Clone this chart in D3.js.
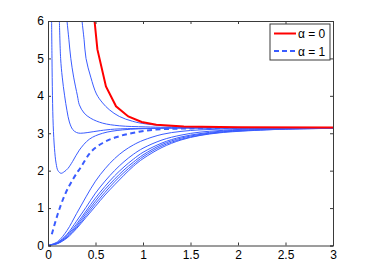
<!DOCTYPE html>
<html>
<head>
<meta charset="utf-8">
<script src="https://cdn.jsdelivr.net/npm/d3@7"></script>
<style>
  body { margin: 0; background: #fff; }
  svg text { font-family: "Liberation Sans", Arial, sans-serif; }
</style>
</head>
<body>
<div id="chart"></div>
<script>
const width = 368, height = 277;
const margin = {top: 21, right: 35, bottom: 31.5, left: 48};

// tick labels
const xTicks = [0, 0.5, 1, 1.5, 2, 2.5, 3];
const yTicks = [0, 1, 2, 3, 4, 5, 6];

// curves coming down from the top
const redAlpha0 = [[0.49,6],[0.52,5.24],[0.61,4.25],[0.716,3.72],[0.845,3.45],[0.986,3.30],[1.14,3.23],[1.43,3.18],[2,3.16],[3,3.155]];
const curveA = [[0.038,6],[0.042,5],[0.047,4],[0.055,3.2],[0.068,2.6],[0.085,2.2],[0.105,2.0],[0.137,1.93],[0.17,1.97],[0.21,2.06],[0.26,2.25],[0.33,2.55],[0.435,2.84],[0.575,3.0],[0.785,3.09],[1.14,3.13],[1.6,3.14],[3,3.14]];
const curveB = [[0.12,6],[0.133,5],[0.15,4.5],[0.175,4.0],[0.2,3.6],[0.225,3.3],[0.26,3.1],[0.3,3.02],[0.34,3.0],[0.42,3.02],[0.55,3.07],[0.7,3.11],[1.0,3.13],[1.5,3.14],[3,3.14]];
const curveC = [[0.2,6],[0.22,5.5],[0.24,5.0],[0.27,4.5],[0.31,4.0],[0.33,3.76],[0.38,3.54],[0.45,3.4],[0.575,3.27],[0.75,3.2],[1.03,3.17],[1.5,3.15],[3,3.145]];
const curveD = [[0.358,6],[0.38,5.5],[0.40,5.0],[0.45,4.5],[0.51,4.05],[0.575,3.81],[0.645,3.63],[0.75,3.45],[0.89,3.32],[1.03,3.25],[1.3,3.19],[1.8,3.16],[3,3.15]];

// dashed alpha = 1
const dashedAlpha1 = [[0.04,0.3],[0.1,0.82],[0.17,1.31],[0.26,1.76],[0.35,2.11],[0.435,2.45],[0.575,2.74],[0.75,2.92],[0.96,3.04],[1.14,3.1],[1.5,3.13],[2,3.14],[3,3.14]];

// bundle rising from zero
const bundleX = [0, 0.1, 0.2, 0.3, 0.4, 0.5, 0.6, 0.7, 0.8, 0.9, 1.0, 1.2, 1.4, 1.6, 1.8, 2.0, 2.5, 3.0];
const bundle1 = [0, 0.1, 0.4, 0.85, 1.3, 1.72, 2.05, 2.32, 2.53, 2.69, 2.81, 2.97, 3.05, 3.09, 3.11, 3.12, 3.135, 3.14];
const bundle2 = [0, 0.08, 0.3, 0.65, 1.02, 1.4, 1.72, 2.0, 2.24, 2.44, 2.6, 2.82, 2.95, 3.03, 3.07, 3.1, 3.13, 3.14];
const bundle3 = [0, 0.07, 0.27, 0.57, 0.92, 1.27, 1.58, 1.86, 2.1, 2.31, 2.49, 2.74, 2.9, 2.99, 3.05, 3.08, 3.12, 3.135];
const bundle4 = [0, 0.06, 0.24, 0.52, 0.86, 1.19, 1.5, 1.77, 2.02, 2.23, 2.42, 2.7, 2.87, 2.97, 3.03, 3.07, 3.115, 3.13];
const bundle5 = [0, 0.055, 0.22, 0.48, 0.8, 1.12, 1.42, 1.7, 1.95, 2.17, 2.37, 2.66, 2.84, 2.95, 3.02, 3.06, 3.11, 3.13];
const bundle6 = [0, 0.05, 0.2, 0.45, 0.75, 1.05, 1.35, 1.62, 1.88, 2.12, 2.32, 2.62, 2.82, 2.94, 3.01, 3.05, 3.11, 3.13];

const legendLabels = ["\u03B1 = 0", "\u03B1 = 1"];

const blue = "#3a5cff";
const red = "#ff0000";

var svg = d3.select("#chart")
  .append("svg")
  .attr("width", width)
  .attr("height", height);

const x = d3.scaleLinear().domain([0, 3]).range([margin.left, width - margin.right]);
const y = d3.scaleLinear().domain([0, 6]).range([height - margin.bottom, margin.top]);

svg.append("defs").append("clipPath").attr("id", "clip")
  .append("rect")
  .attr("x", margin.left).attr("y", margin.top)
  .attr("width", x(3) - x(0)).attr("height", y(0) - y(6));

const smooth = d3.line().x(d => x(d[0])).y(d => y(d[1])).curve(d3.curveMonotoneX);
const straight = d3.line().x(d => x(d[0])).y(d => y(d[1]));

const plot = svg.append("g").attr("clip-path", "url(#clip)");

// thin blue curves
const bundles = [bundle1, bundle2, bundle3, bundle4, bundle5, bundle6]
  .map(b => bundleX.map((v, i) => [v, b[i]]));
const thin = [curveA, curveB, curveC, curveD].concat(bundles);

plot.selectAll(".thin")
  .data(thin)
  .enter().append("path")
  .attr("class", "thin")
  .attr("d", d => d3.line().x(p => x(p[0])).y(p => y(p[1])).curve(d3.curveCatmullRom)(d))
  .attr("fill", "none")
  .attr("stroke", blue)
  .attr("stroke-width", 1);

plot.append("path")
  .attr("d", smooth(dashedAlpha1))
  .attr("fill", "none")
  .attr("stroke", blue)
  .attr("stroke-width", 2)
  .attr("stroke-dasharray", "5,3.5");

plot.append("path")
  .attr("d", straight(redAlpha0))
  .attr("fill", "none")
  .attr("stroke", red)
  .attr("stroke-width", 2);

// axes (box with inward ticks on all sides)
const axisColor = "#3a3a3a";
const tickLen = 3;

const xAxis = svg.append("g")
  .attr("transform", `translate(0,${y(0)})`)
  .call(d3.axisBottom(x).tickValues(xTicks).tickSize(-tickLen).tickPadding(5).tickFormat(d3.format("")));
const xTop = svg.append("g")
  .attr("transform", `translate(0,${y(6)})`)
  .call(d3.axisTop(x).tickValues(xTicks).tickSize(-tickLen).tickFormat(""));
const yAxis = svg.append("g")
  .attr("transform", `translate(${x(0)},0)`)
  .call(d3.axisLeft(y).tickValues(yTicks).tickSize(-tickLen).tickPadding(4).tickFormat(d3.format("")));
const yRight = svg.append("g")
  .attr("transform", `translate(${x(3)},0)`)
  .call(d3.axisRight(y).tickValues(yTicks).tickSize(-tickLen).tickFormat(""));

[xAxis, xTop, yAxis, yRight].forEach(g => {
  g.select(".domain").attr("stroke", axisColor).attr("stroke-width", 1);
  g.selectAll(".tick line").attr("stroke", axisColor);
  g.selectAll("text")
    .attr("fill", "#000")
    .style("font-size", "12px")
    .style("font-family", "Liberation Sans, Arial, sans-serif");
});

// legend
const legend = svg.append("g");
legend.append("rect")
  .attr("x", 270).attr("y", 24)
  .attr("width", 60).attr("height", 36)
  .attr("fill", "#fff")
  .attr("stroke", axisColor)
  .attr("stroke-width", 1);

const legendStyles = [
  {color: red, dash: null},
  {color: blue, dash: "5,3"}
];

legendLabels.forEach((lab, i) => {
  const ly = 33.5 + i * 17.5;
  legend.append("line")
    .attr("x1", 274).attr("x2", 296)
    .attr("y1", ly).attr("y2", ly)
    .attr("stroke", legendStyles[i].color)
    .attr("stroke-width", 2)
    .attr("stroke-dasharray", legendStyles[i].dash);
  legend.append("text")
    .attr("x", 298).attr("y", ly + 4.5)
    .style("font-size", "12px")
    .text(lab);
});
</script>
</body>
</html>
